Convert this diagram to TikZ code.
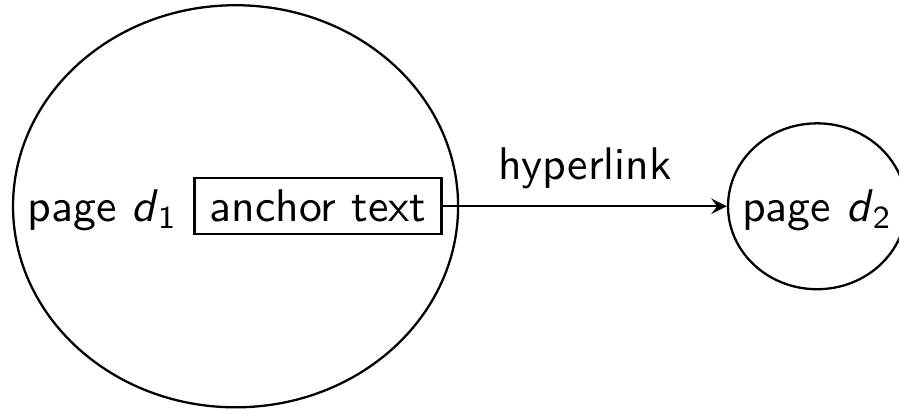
\documentclass[tikz,border=0pt]{standalone}
\usepackage{tikz}
\usetikzlibrary{positioning}
\usetikzlibrary{shapes.geometric, arrows}
\renewcommand{\familydefault}{\sfdefault}
\newcommand{\pg}[1]{page \textit{d}$_{\mathsf{#1}}$}

\begin{document}
\begin{tikzpicture}[line width=0.5pt]
    \useasboundingbox (0,0) rectangle (6.904,3.141);
    \tikzstyle{page} = [draw, ellipse, inner sep=0pt]
    \tikzstyle{anchorbox} = [draw, inner ysep=2.6pt]

    \node[page, minimum width=3.418cm, minimum height=3.088cm] (d1) at (1.809,1.557) {};
    \node[anchorbox] (anchor) at (2.442,1.557) {anchor text};
    \node[anchor=base] (d1text) at (0.787,0 |- anchor.base) {\pg{1}};
    \node[page, minimum width=1.368cm, minimum height=1.274cm] (d2) at (6.275,1.557) {};
    \node[anchor=base] (d2text) at (6.275,0 |- anchor.base) {\pg{2}};

    \draw[-stealth] (anchor) -- (d2) node[midway, above=0.3pt] {hyperlink};
\end{tikzpicture}
\end{document}
